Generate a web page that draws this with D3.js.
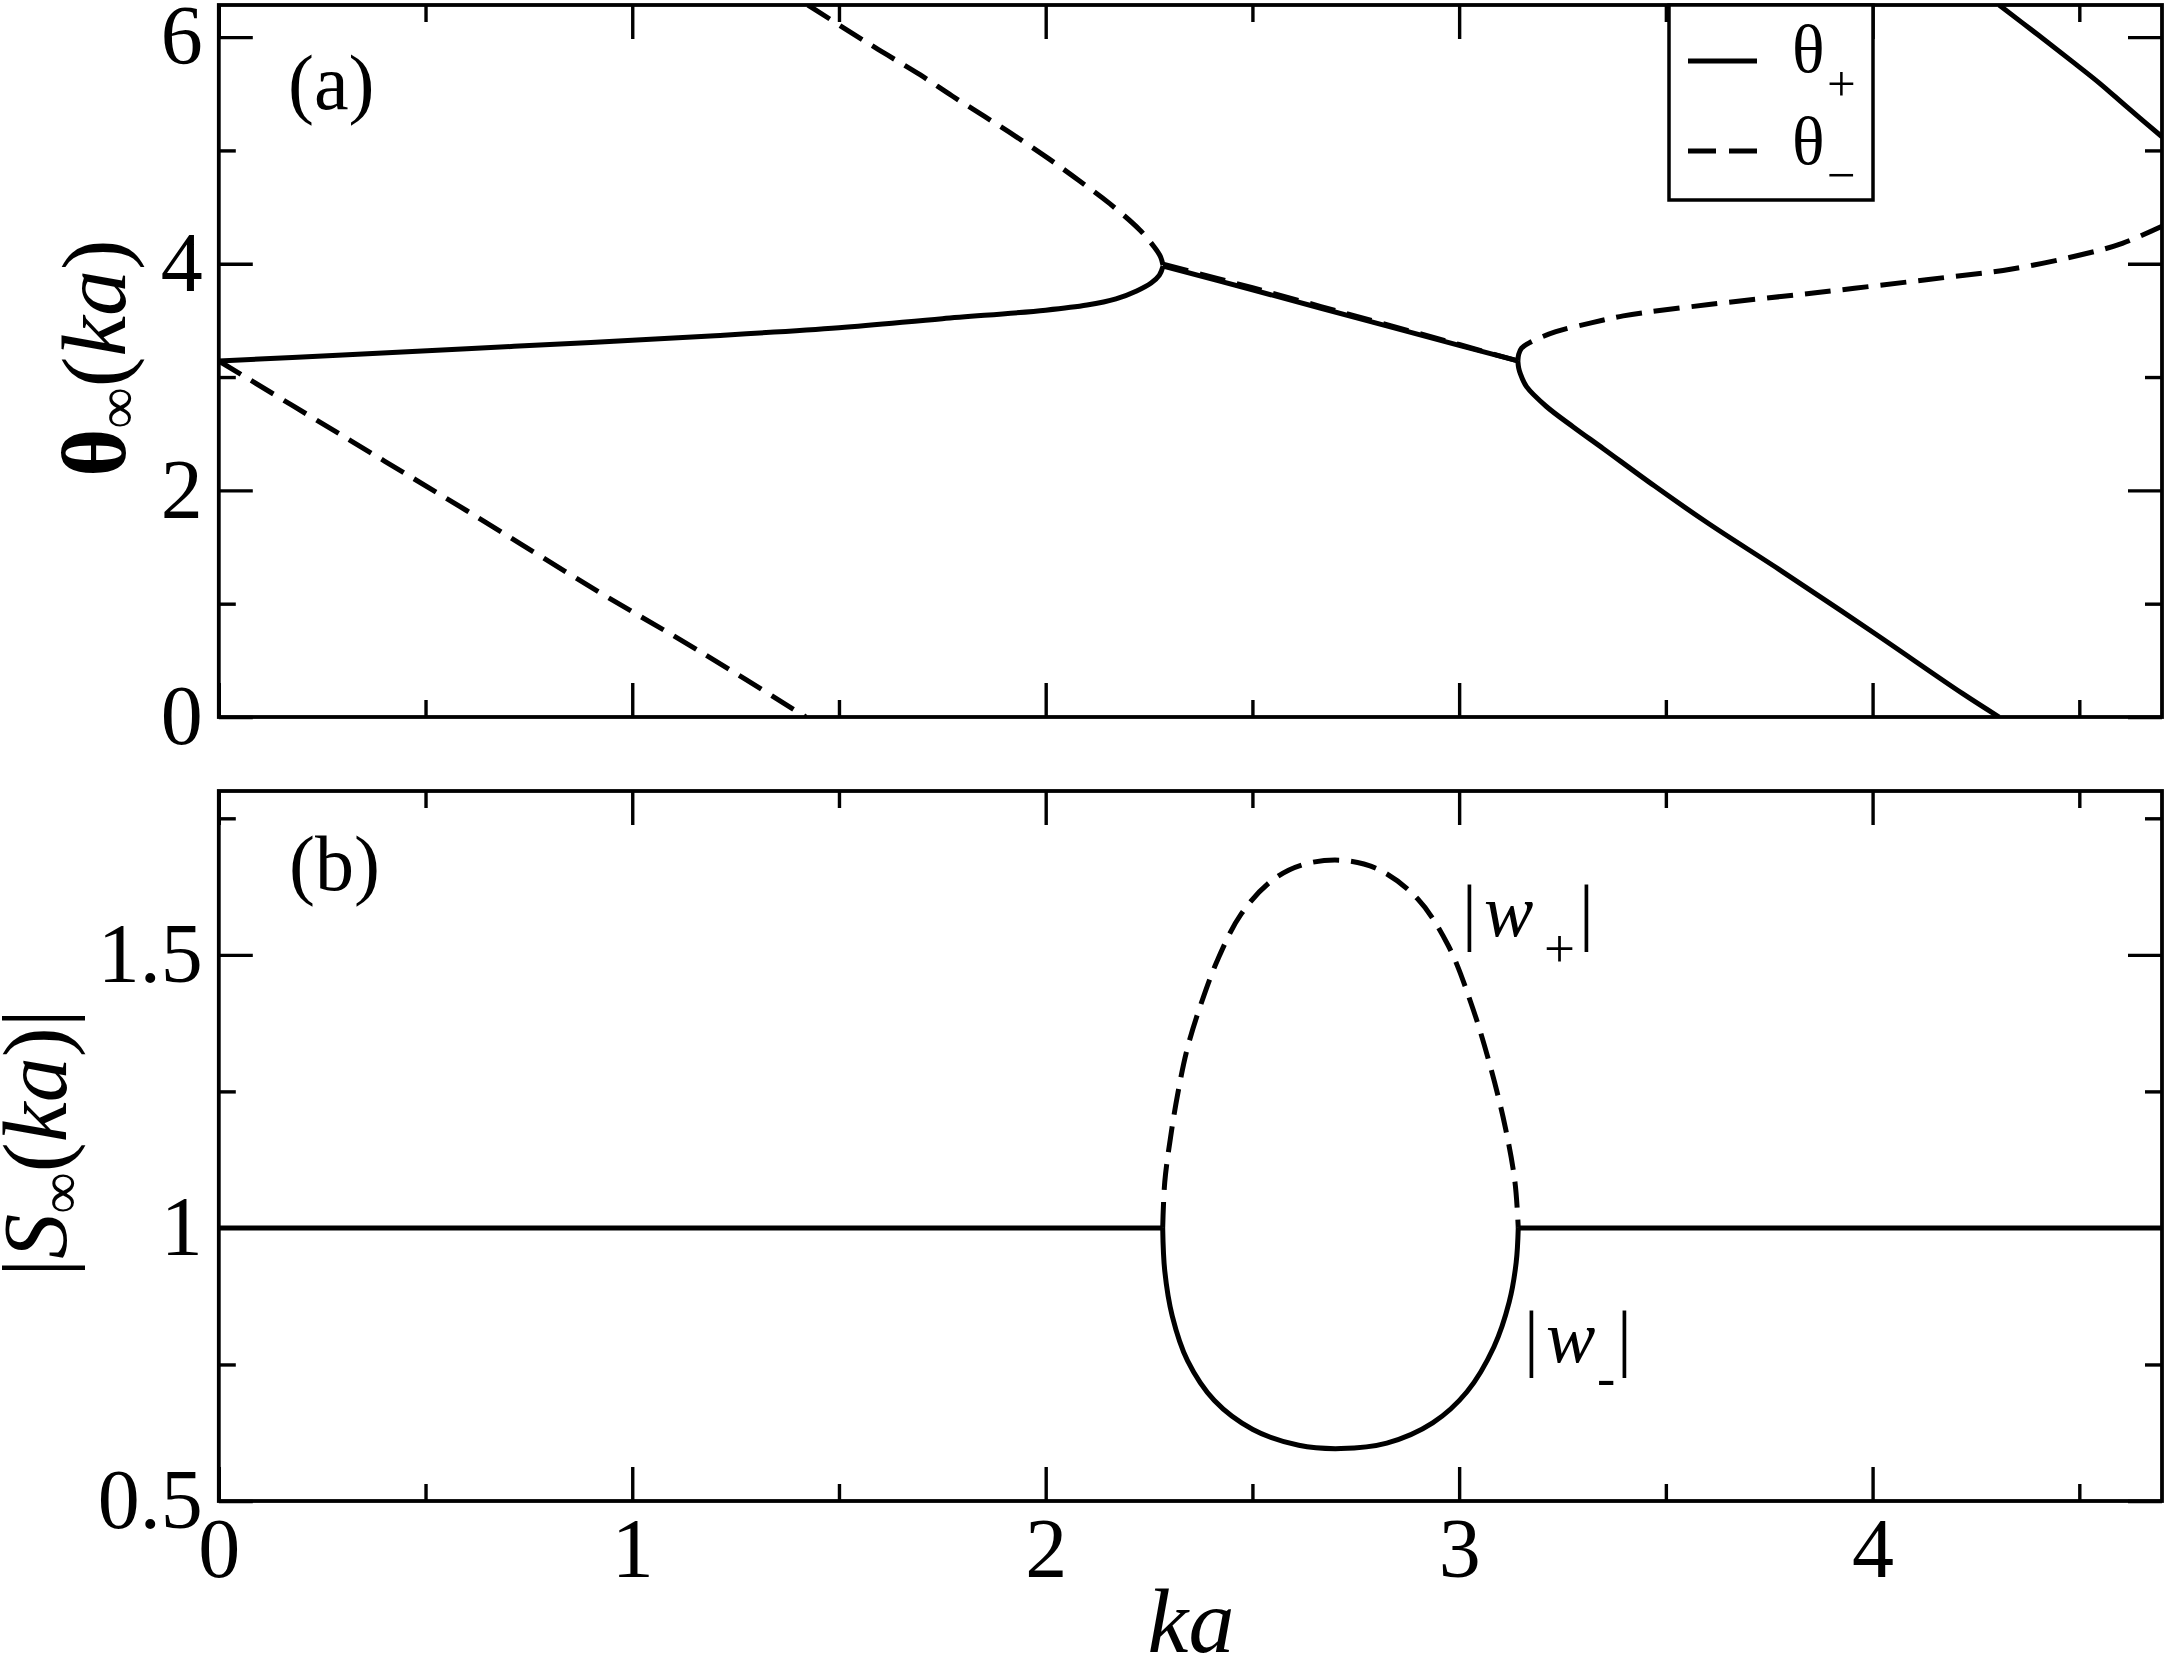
<!DOCTYPE html>
<html>
<head>
<meta charset="utf-8">
<script src="https://cdn.jsdelivr.net/npm/d3@7"></script>
<style>
  html, body { margin: 0; padding: 0; background: #fff; }
  svg { display: block; }
</style>
</head>
<body>
<script>
// ---------------- DATA ----------------
// panel (a): theta_infinity(ka), branches of theta_+ (solid) and theta_- (dashed)
const thetaPlusLow  = [[0,3.142],[0.3,3.195],[0.6,3.25],[0.9,3.305],[1.2,3.365],[1.5,3.435],[1.75,3.515],[2.0,3.59],[2.1,3.635],[2.17,3.69],[2.22,3.76],[2.255,3.83],[2.275,3.9],[2.284,3.98]];
const thetaPlusMid  = [[2.284,3.98],[2.5,3.77],[2.75,3.525],[3.0,3.28],[3.142,3.142]];
const thetaPlusFall = [[3.142,3.142],[3.144,3.08],[3.148,3.03],[3.163,2.915],[3.211,2.74],[3.276,2.56],[3.348,2.37],[3.472,2.04],[3.604,1.705],[3.779,1.29],[4.0,0.75],[4.218,0.206],[4.306,0]];
const thetaPlusWrap = [[4.306,6.283],[4.40,6.02],[4.481,5.79],[4.55,5.59],[4.613,5.39],[4.70,5.12]];

const thetaMinusLow   = [[0,3.142],[0.3,2.48],[0.6,1.82],[0.921,1.10],[1.163,0.58],[1.42,0]];
const thetaMinusUpper = [[1.425,6.283],[1.538,6.02],[1.618,5.84],[1.695,5.67],[1.774,5.48],[1.852,5.30],[1.929,5.12],[2.008,4.925],[2.082,4.73],[2.155,4.53],[2.227,4.30],[2.262,4.15],[2.278,4.06],[2.284,3.98]];
const thetaMinusMid   = [[2.284,3.995],[2.5,3.788],[2.75,3.537],[3.0,3.287],[3.142,3.142]];
const thetaMinusRise  = [[3.142,3.142],[3.144,3.2],[3.151,3.255],[3.171,3.305],[3.234,3.40],[3.322,3.48],[3.397,3.54],[3.604,3.64],[3.867,3.746],[4.13,3.859],[4.337,3.954],[4.517,4.09],[4.604,4.18],[4.70,4.33]];

// panel (b): |S_infinity(ka)|
const sUnitLeft  = [[0,1],[2.283,1]];
const sUnitRight = [[3.143,1],[4.7,1]];
const wPlus  = [[2.283,1.0],[2.288,1.084],[2.302,1.166],[2.320,1.248],[2.343,1.330],[2.376,1.411],[2.417,1.493],[2.473,1.575],[2.547,1.636],[2.621,1.665],[2.718,1.673],[2.806,1.656],[2.899,1.603],[2.973,1.518],[3.029,1.411],[3.075,1.297],[3.112,1.183],[3.135,1.084],[3.143,1.0]];
const wMinus = [[2.283,1.0],[2.288,0.921],[2.306,0.839],[2.343,0.757],[2.408,0.684],[2.501,0.631],[2.612,0.602],[2.714,0.596],[2.825,0.606],[2.936,0.643],[3.019,0.700],[3.084,0.782],[3.121,0.864],[3.138,0.937],[3.143,1.0]];

// ticks
const xMajor  = [0,1,2,3,4];
const xMinor  = [0.5,1.5,2.5,3.5,4.5];
const yAMajor = [0,2,4,6];
const yAMinor = [1,3,5];
const yBMajor = [0.5,1,1.5];
const yBMinor = [0.75,1.25,1.75];
const xLabels  = ["0","1","2","3","4"];
const yALabels = ["0","2","4","6"];
const yBLabels = ["0.5","1","1.5"];

// ---------------- DRAWING ----------------
const W = 2169, H = 1664;
const FONT = "'Liberation Serif','Times New Roman',Times,serif";
const svg = d3.select("body").append("svg").attr("width", W).attr("height", H)
  .style("background", "#fff");

const x  = d3.scaleLinear().domain([0, 4.7]).range([218.8, 2162]);
const yA = d3.scaleLinear().domain([0, 2*Math.PI]).range([717, 5]);
const yB = d3.scaleLinear().domain([0.5, 1.8]).range([1501, 791]);

const LW = 5, DASH = "26,12";

function clip(id, y) {
  svg.append("clipPath").attr("id", id).append("rect")
    .attr("x", x.range()[0]).attr("y", y.range()[1])
    .attr("width", x.range()[1] - x.range()[0])
    .attr("height", y.range()[0] - y.range()[1]);
}
clip("clipA", yA); clip("clipB", yB);

function drawLine(g, data, y, dashed) {
  const line = d3.line().x(d => x(d[0])).y(d => y(d[1])).curve(d3.curveCatmullRom.alpha(0.5));
  g.append("path").datum(data).attr("d", line)
    .attr("fill", "none").attr("stroke", "#000").attr("stroke-width", LW)
    .attr("stroke-dasharray", dashed ? DASH : null).attr("stroke-linecap", "butt")
    .attr("stroke-linejoin", "round");
}

const gA = svg.append("g").attr("clip-path", "url(#clipA)");
[thetaPlusLow, thetaPlusMid, thetaPlusFall, thetaPlusWrap].forEach(d => drawLine(gA, d, yA, false));
[thetaMinusLow, thetaMinusUpper, thetaMinusMid, thetaMinusRise].forEach(d => drawLine(gA, d, yA, true));

const gB = svg.append("g").attr("clip-path", "url(#clipB)");
[sUnitLeft, wMinus, sUnitRight].forEach(d => drawLine(gB, d, yB, false));
drawLine(gB, wPlus, yB, true);

function axes(y, yMaj, yMin, yLab, showX) {
  const bottom = y.range()[0], top = y.range()[1];
  const L = x.range()[0], R = x.range()[1];
  const style = g => {
    g.select(".domain").remove();
    g.selectAll(".tick line").attr("stroke-width", 3.4);
    g.attr("font-family", FONT).attr("font-size", 84);
    g.selectAll(".tick text").attr("fill", "#000");
  };
  svg.append("g").attr("transform", `translate(0,${bottom})`)
    .call(d3.axisBottom(x).tickValues(xMajor).tickSizeInner(-34).tickSizeOuter(0).tickPadding(16)
      .tickFormat((d, i) => showX ? xLabels[i] : "")).call(style);
  svg.append("g").attr("transform", `translate(0,${bottom})`)
    .call(d3.axisBottom(x).tickValues(xMinor).tickSizeInner(-17).tickSizeOuter(0).tickFormat("")).call(style);
  svg.append("g").attr("transform", `translate(0,${top})`)
    .call(d3.axisTop(x).tickValues(xMajor).tickSizeInner(-34).tickSizeOuter(0).tickFormat("")).call(style);
  svg.append("g").attr("transform", `translate(0,${top})`)
    .call(d3.axisTop(x).tickValues(xMinor).tickSizeInner(-17).tickSizeOuter(0).tickFormat("")).call(style);
  svg.append("g").attr("transform", `translate(${L},0)`)
    .call(d3.axisLeft(y).tickValues(yMaj).tickSizeInner(-34).tickSizeOuter(0).tickPadding(16)
      .tickFormat((d, i) => yLab[i])).call(style);
  svg.append("g").attr("transform", `translate(${L},0)`)
    .call(d3.axisLeft(y).tickValues(yMin).tickSizeInner(-17).tickSizeOuter(0).tickFormat("")).call(style);
  svg.append("g").attr("transform", `translate(${R},0)`)
    .call(d3.axisRight(y).tickValues(yMaj).tickSizeInner(-34).tickSizeOuter(0).tickFormat("")).call(style);
  svg.append("g").attr("transform", `translate(${R},0)`)
    .call(d3.axisRight(y).tickValues(yMin).tickSizeInner(-17).tickSizeOuter(0).tickFormat("")).call(style);
  svg.append("rect").attr("x", L).attr("y", top).attr("width", R - L).attr("height", bottom - top)
    .attr("fill", "none").attr("stroke", "#000").attr("stroke-width", 3.8);
}
axes(yA, yAMajor, yAMinor, yALabels, false);
axes(yB, yBMajor, yBMinor, yBLabels, true);

// panel letters
svg.append("text").attr("x", 288).attr("y", 109).attr("font-family", FONT).attr("font-size", 78).text("(a)");
svg.append("text").attr("x", 289).attr("y", 890).attr("font-family", FONT).attr("font-size", 78).text("(b)");

// x axis title
svg.append("text").attr("x", 1191).attr("y", 1652).attr("text-anchor", "middle")
  .attr("font-family", FONT).attr("font-size", 92).attr("font-style", "italic").text("ka");

// y axis title (a)
{
  const t = svg.append("text").attr("transform", "translate(125,358) rotate(-90)")
    .attr("text-anchor", "middle").attr("font-family", FONT).attr("font-size", 92);
  t.append("tspan").attr("font-weight", "bold").text("θ");
  t.append("tspan").attr("font-size", 58).attr("dy", 12).text("∞");
  t.append("tspan").attr("dy", -12).text("(");
  t.append("tspan").attr("font-style", "italic").text("ka");
  t.append("tspan").text(")");
}
// y axis title (b)
{
  const t = svg.append("text").attr("transform", "translate(66,1143) rotate(-90)")
    .attr("text-anchor", "middle").attr("font-family", FONT).attr("font-size", 90);
  t.append("tspan").text("|");
  t.append("tspan").attr("font-style", "italic").text("S");
  t.append("tspan").attr("font-size", 58).attr("dy", 14).text("∞");
  t.append("tspan").attr("dy", -14).text("(");
  t.append("tspan").attr("font-style", "italic").text("ka");
  t.append("tspan").text(")|");
}

// curve labels in (b)
function wLabel(x0, base, xw, xs, xb, sub, dy) {
  const t = svg.append("text").attr("y", base).attr("font-family", FONT).attr("font-size", 74);
  t.append("tspan").attr("x", x0).text("|");
  t.append("tspan").attr("x", xw).attr("font-style", "italic").text("w");
  t.append("tspan").attr("x", xs).attr("font-size", 55).attr("dy", dy).text(sub);
  t.append("tspan").attr("x", xb).attr("dy", -dy).text("|");
}
wLabel(1462, 936, 1484, 1544, 1579, "+", 31);
wLabel(1524, 1362, 1546, 1597, 1617, "-", 34);

// legend
{
  const g = svg.append("g");
  g.append("rect").attr("x", 1669).attr("y", 5).attr("width", 204).attr("height", 195)
    .attr("fill", "#fff").attr("stroke", "#000").attr("stroke-width", 3.5);
  g.append("line").attr("x1", 1688).attr("x2", 1757).attr("y1", 61).attr("y2", 61)
    .attr("stroke", "#000").attr("stroke-width", LW);
  g.append("line").attr("x1", 1688).attr("x2", 1757).attr("y1", 151).attr("y2", 151)
    .attr("stroke", "#000").attr("stroke-width", LW).attr("stroke-dasharray", "28,13");
  const t1 = g.append("text").attr("x", 1792).attr("y", 72).attr("font-family", FONT).attr("font-size", 68);
  t1.append("tspan").text("θ");
  t1.append("tspan").attr("x", 1827).attr("dy", 29).attr("font-size", 51).text("+");
  const t2 = g.append("text").attr("x", 1792).attr("y", 164).attr("font-family", FONT).attr("font-size", 68);
  t2.append("tspan").text("θ");
  t2.append("tspan").attr("x", 1827).attr("dy", 28).attr("font-size", 51).text("−");
}
</script>
</body>
</html>
